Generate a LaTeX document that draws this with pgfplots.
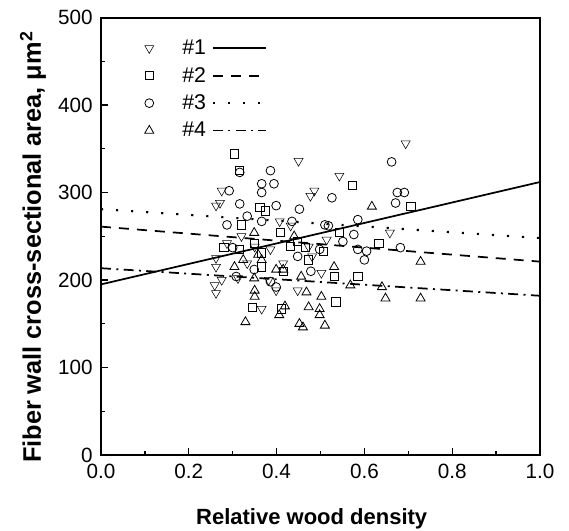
\documentclass[border=0pt]{standalone}
\usepackage{pgfplots}
\pgfplotsset{compat=1.18}
\usepackage{fontspec}
\setmainfont{Liberation Sans}
\pgfplotsset{
 marklegend/.style={legend image code/.code={\path[draw=none,fill=none] (-7.5pt,-10.3pt) rectangle (24.75pt,10.3pt); \draw[##1] plot coordinates {(0pt,0pt)};}},
 linelegend/.style={legend image code/.code={\path[draw=none,fill=none] (-5.25pt,0pt) rectangle (40pt,0pt); \draw[##1] (0pt,0pt) -- (40pt,0pt);}},
 mk/.style={only marks, mark options={line width=0.6pt, draw=black, fill=none, solid}, marklegend},
}
\begin{document}
\begin{tikzpicture}
\begin{axis}[
 scale only axis, width=329.25pt, height=328.1pt,
 xmin=0, xmax=1, ymin=0, ymax=500,
 xtick={0,0.2,0.4,0.6,0.8,1}, xticklabels={0.0,0.2,0.4,0.6,0.8,1.0},
 ytick={0,100,200,300,400,500},
 minor x tick num=1, minor y tick num=1,
 tick align=inside, tick pos=left,
 major tick length=5pt, minor tick length=3pt,
 every tick/.style={black, line width=1pt},
 axis line style={line width=1.5pt},
 /pgf/number format/assume math mode=true,
 tick label style={font=\fontsize{15.5}{18}\selectfont, inner sep=0pt},
 xticklabel style={yshift=-6.5pt},
 yticklabel style={xshift=-6pt},
 xlabel={\bfseries Relative wood density},
 ylabel={\bfseries Fiber wall cross-sectional area, μm\textsuperscript{2}},
 xlabel style={font=\fontsize{16.5}{19}\selectfont, anchor=base, at={(axis description cs:0.48,-0.158)}},
 ylabel style={font=\fontsize{19}{21}\selectfont, anchor=center, at={(axis description cs:-0.155,0.475)}},
 legend columns=2,
 legend style={draw=none, fill=none, at={(axis description cs:0.0775,0.968)}, anchor=north west,
   column sep=0pt, row sep=0pt, font=\fontsize{16}{18}\selectfont, nodes={inner sep=0pt}},
]
% #1
\addplot[mk, mark=triangle, mark size=3.9pt, mark options={rotate=180}] coordinates {
(0.694,356) (0.450,336) (0.543,319) (0.486,302) (0.477,296) (0.275,302) (0.271,288) (0.262,285)
(0.658,254) (0.262,225) (0.262,215) (0.259,194) (0.262,185) (0.275,200) (0.312,202) (0.366,167)
(0.502,208) (0.287,242) (0.407,267) (0.432,262) (0.473,238) (0.386,235) (0.350,238) (0.382,200)
(0.415,219) (0.481,227) (0.514,246) (0.320,250) (0.333,219) (0.448,188) (0.399,188)
};
\addlegendentry{\#1}
\addplot[black, line width=1.3pt, linelegend] coordinates {(0,195) (1,312)};
\addlegendentry{}
% #2
\addplot[mk, mark=square, mark size=3.1pt] coordinates {
(0.304,344) (0.316,325) (0.572,308) (0.362,283) (0.374,279) (0.706,284) (0.319,263) (0.409,254)
(0.349,242) (0.448,244) (0.633,242) (0.432,238) (0.506,233) (0.366,215) (0.345,169) (0.411,167)
(0.535,175) (0.531,204) (0.585,204) (0.543,254) (0.465,237) (0.473,223) (0.415,210) (0.316,235)
(0.280,237) (0.366,231)
};
\addlegendentry{\#2}
\addplot[black, line width=1.3pt, dash pattern=on 7.5pt off 6pt, linelegend] coordinates {(0,261) (1,221)};
\addlegendentry{}
% #3
\addplot[mk, mark=o, mark size=3.3pt] coordinates {
(0.662,335) (0.316,323) (0.386,325) (0.366,310) (0.394,310) (0.366,300) (0.292,302) (0.526,294)
(0.691,300) (0.675,300) (0.671,288) (0.316,287) (0.399,285) (0.452,281) (0.333,273) (0.366,267)
(0.585,269) (0.435,267) (0.510,263) (0.518,262) (0.287,263) (0.576,252) (0.551,244) (0.682,237)
(0.585,235) (0.605,233) (0.600,223) (0.478,210) (0.498,235) (0.300,237) (0.349,212) (0.386,198)
(0.399,192) (0.308,204) (0.448,227)
};
\addlegendentry{\#3}
\addplot[black, line width=1.6pt, dash pattern=on 1.6pt off 9.7pt, linelegend] coordinates {(0,281) (1,248)};
\addlegendentry{}
% #4
\addplot[mk, mark=triangle, mark size=3.9pt] coordinates {
(0.617,284) (0.349,254) (0.728,221) (0.304,215) (0.366,223) (0.350,181) (0.350,188) (0.531,215)
(0.568,194) (0.640,192) (0.648,179) (0.728,179) (0.329,152) (0.406,160) (0.419,170) (0.473,169)
(0.452,150) (0.460,146) (0.510,148) (0.498,160) (0.498,167) (0.502,181) (0.468,186) (0.456,204)
(0.399,212) (0.415,212) (0.349,202) (0.324,223) (0.358,229) (0.440,250)
};
\addlegendentry{\#4}
\addplot[black, line width=1.3pt, dash pattern=on 7.5pt off 4pt on 1.5pt off 4pt, linelegend] coordinates {(0,213.5) (1,182)};
\addlegendentry{}
\end{axis}
\pgfresetboundingbox
\path[use as bounding box] (-75.75pt,-57pt) rectangle (351pt,341.25pt);
\end{tikzpicture}
\end{document}
